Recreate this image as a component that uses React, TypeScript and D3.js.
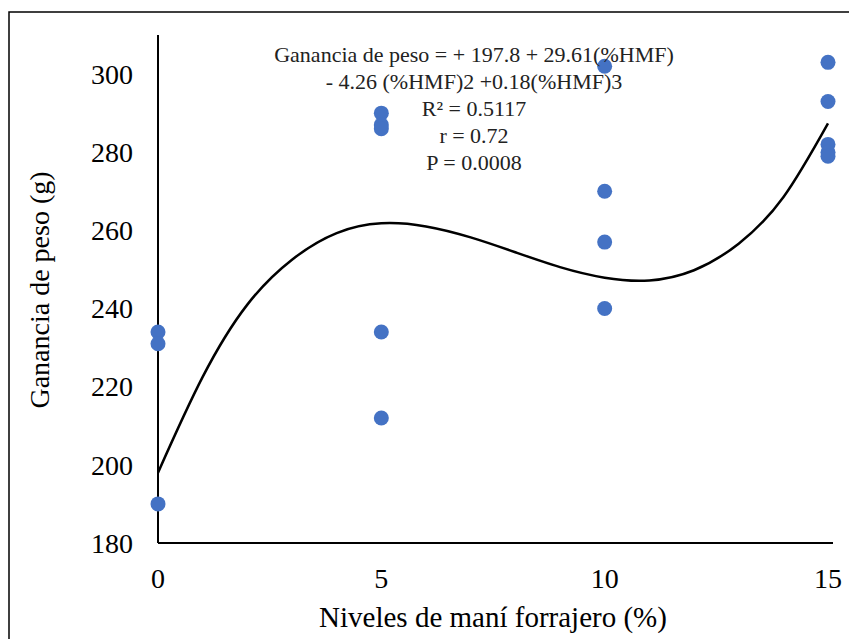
import React, { useEffect, useRef } from "react";
import * as d3 from "d3";

// observed points (x = % mani forrajero, y = ganancia de peso g)
const levels = [0, 0, 0, 5, 5, 5, 5, 5, 10, 10, 10, 10, 15, 15, 15, 15, 15];
const gains = [234, 231, 190, 290, 287, 286, 234, 212, 302, 270, 257, 240, 303, 293, 282, 280, 279];

// trend line at each level step
const trendX = [0, 1, 2, 3, 4, 5, 6, 7, 8, 9, 10, 11, 12, 13, 14, 15];
const trendY = [198, 222.5, 241, 252.5, 259.3, 261.8, 261, 258.2, 254.4, 250.6, 247.9, 247.2, 249.8, 256.6, 268.5, 287.4];

const xTicks = [0, 5, 10, 15];
const yTicks = [180, 200, 220, 240, 260, 280, 300];

const equationLines = [
  "Ganancia de peso = + 197.8 + 29.61(%HMF)",
  "- 4.26 (%HMF)2 +0.18(%HMF)3",
  "R² = 0.5117",
  "r = 0.72",
  "P = 0.0008",
];

const App = () => {
  const ref = useRef(null);

  useEffect(() => {
    const width = 849;
    const height = 639;
    const font = "Liberation Serif, Tinos, DejaVu Serif, serif";

    const svg = d3.select(ref.current);
    svg.selectAll("*").remove();
    svg.attr("width", width).attr("height", height).style("font-family", font);

    const x = d3.scaleLinear().domain([0, 15]).range([158, 828]);
    const y = d3.scaleLinear().domain([180, 310]).range([543, 35]);

    // outer frame
    svg
      .append("rect")
      .attr("x", 9)
      .attr("y", 12)
      .attr("width", 860)
      .attr("height", 660)
      .attr("fill", "white")
      .attr("stroke", "#000")
      .attr("stroke-width", 1.5);

    // axes
    svg
      .append("line")
      .attr("x1", x(0))
      .attr("x2", x(0))
      .attr("y1", y(310))
      .attr("y2", y(180))
      .attr("stroke", "#000")
      .attr("stroke-width", 2);
    svg
      .append("line")
      .attr("x1", x(0))
      .attr("x2", x(15) + 5)
      .attr("y1", y(180))
      .attr("y2", y(180))
      .attr("stroke", "#000")
      .attr("stroke-width", 2);

    svg
      .append("g")
      .selectAll("text")
      .data(yTicks)
      .join("text")
      .attr("x", 133)
      .attr("y", (d) => y(d))
      .attr("dy", "0.35em")
      .attr("text-anchor", "end")
      .style("font-family", font)
      .attr("font-size", 28)
      .text((d) => d);

    svg
      .append("g")
      .selectAll("text")
      .data(xTicks)
      .join("text")
      .attr("x", (d) => x(d))
      .attr("y", 588)
      .attr("text-anchor", "middle")
      .style("font-family", font)
      .attr("font-size", 28)
      .text((d) => d);

    // axis titles
    svg
      .append("text")
      .attr("x", 493)
      .attr("y", 627)
      .attr("text-anchor", "middle")
      .style("font-family", font)
      .attr("font-size", 29)
      .text("Niveles de maní forrajero (%)");

    svg
      .append("text")
      .attr("transform", `translate(49,290) rotate(-90)`)
      .attr("text-anchor", "middle")
      .style("font-family", font)
      .attr("font-size", 28)
      .text("Ganancia de peso (g)");

    // points
    svg
      .append("g")
      .selectAll("circle")
      .data(levels.map((l, i) => [l, gains[i]]))
      .join("circle")
      .attr("cx", (d) => x(d[0]))
      .attr("cy", (d) => y(d[1]))
      .attr("r", 7.5)
      .attr("fill", "#4472C4");

    // trend line
    const line = d3
      .line()
      .x((d) => x(d[0]))
      .y((d) => y(d[1]))
      .curve(d3.curveNatural);
    svg
      .append("path")
      .datum(trendX.map((t, i) => [t, trendY[i]]))
      .attr("d", line)
      .attr("fill", "none")
      .attr("stroke", "#000")
      .attr("stroke-width", 2.5);

    // equation block
    svg
      .append("g")
      .selectAll("text")
      .data(equationLines)
      .join("text")
      .attr("x", 474)
      .attr("y", (d, i) => 62 + i * 27)
      .attr("text-anchor", "middle")
      .style("font-family", font)
      .attr("font-size", 22)
      .attr("fill", "#222")
      .text((d) => d);
  }, []);

  return <svg ref={ref} style={{ position: "absolute", left: 0, top: 0 }}></svg>;
};

export default App;
